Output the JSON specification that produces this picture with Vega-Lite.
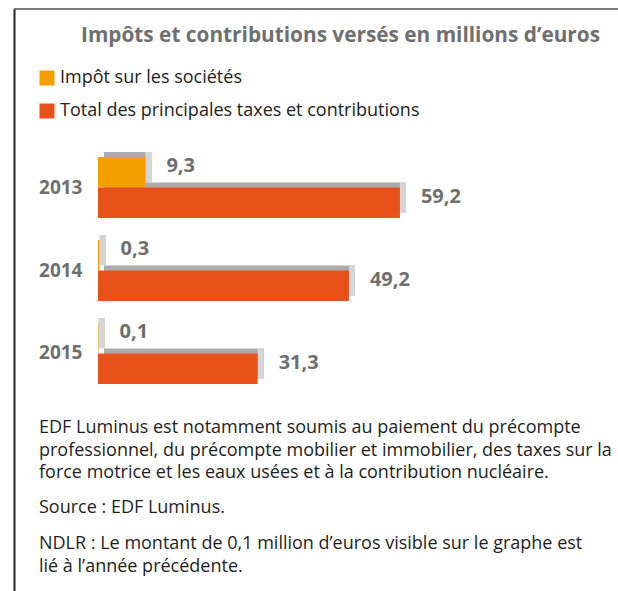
{
  "$schema": "https://vega.github.io/schema/vega-lite/v6.json",
  "width": 604,
  "height": 582,
  "padding": {"left": 14, "top": 9, "right": 0, "bottom": 0},
  "autosize": {"type": "none"},
  "background": "white",
  "config": {
    "font": "Open Sans",
    "view": {"stroke": "#7a7a7a", "strokeWidth": 2, "strokeDash": [604, 5000]},
    "locale": {"number": {"decimal": ",", "thousands": " ", "grouping": [3], "currency": ["", " €"]}}
  },
  "title": {
    "text": "Impôts et contributions versés en millions d’euros",
    "anchor": "start",
    "frame": "group",
    "dx": 67,
    "offset": -38,
    "fontSize": 20.8,
    "fontWeight": "bold",
    "color": "#6f6f6f",
    "font": "Open Sans"
  },
  "layer": [
    {
      "data": {
        "values": [
          {"year": "2013", "series": "Impôt sur les sociétés", "value": 9.3},
          {"year": "2013", "series": "Total des principales taxes et contributions", "value": 59.2},
          {"year": "2014", "series": "Impôt sur les sociétés", "value": 0.3},
          {"year": "2014", "series": "Total des principales taxes et contributions", "value": 49.2},
          {"year": "2015", "series": "Impôt sur les sociétés", "value": 0.1},
          {"year": "2015", "series": "Total des principales taxes et contributions", "value": 31.3}
        ]
      },
      "encoding": {
        "y": {
          "field": "year",
          "type": "nominal",
          "scale": {"range": [148, 375], "paddingInner": 0.265, "paddingOuter": 0},
          "axis": {
            "orient": "left",
            "title": null,
            "domain": false,
            "ticks": false,
            "tickSize": 0,
            "labelPadding": -68,
            "labelAlign": "right",
            "labelFontSize": 19,
            "labelFontWeight": "bold",
            "labelColor": "#6f6f6f",
            "labelFont": "Open Sans"
          }
        }
      },
      "layer": [
        {
          "mark": {"type": "bar", "color": "#acacac", "xOffset": 6, "x2Offset": 6},
          "encoding": {
            "x": {"field": "value", "type": "quantitative", "scale": {"domain": [0, 60], "range": [84, 390], "nice": false, "zero": true}, "axis": null},
            "yOffset": {
              "field": "series",
              "type": "nominal",
              "scale": {
                "type": "band",
                "domain": ["Impôt sur les sociétés", "Total des principales taxes et contributions"],
                "range": [-5, 56],
                "paddingInner": 0,
                "paddingOuter": 0
              }
            }
          }
        },
        {
          "mark": {"type": "bar", "color": "#d6d6d6", "x2Offset": 6},
          "encoding": {
            "x": {"field": "value", "type": "quantitative"},
            "x2": {"field": "value"},
            "yOffset": {
              "field": "series",
              "type": "nominal",
              "scale": {
                "type": "band",
                "domain": ["Impôt sur les sociétés", "Total des principales taxes et contributions"],
                "range": [-5, 56],
                "paddingInner": 0,
                "paddingOuter": 0
              }
            }
          }
        },
        {
          "mark": {"type": "bar"},
          "encoding": {
            "x": {"field": "value", "type": "quantitative"},
            "yOffset": {
              "field": "series",
              "type": "nominal",
              "scale": {
                "type": "band",
                "domain": ["Impôt sur les sociétés", "Total des principales taxes et contributions"],
                "paddingInner": 0,
                "paddingOuter": 0
              }
            },
            "color": {
              "field": "series",
              "type": "nominal",
              "scale": {
                "domain": ["Impôt sur les sociétés", "Total des principales taxes et contributions"],
                "range": ["#f5a000", "#e8511a"]
              },
              "legend": {
                "title": null,
                "orient": "none",
                "legendX": 24,
                "legendY": 60,
                "direction": "vertical",
                "symbolType": "square",
                "symbolSize": 225,
                "symbolStrokeWidth": 0,
                "labelFontSize": 18,
                "labelFont": "Open Sans",
                "labelColor": "#222222",
                "rowPadding": 15,
                "labelOffset": 4,
                "padding": 0,
                "labelLimit": 0
              }
            }
          }
        },
        {
          "mark": {"type": "text", "align": "left", "baseline": "middle", "dx": 21, "dy": -6, "fontSize": 20, "fontWeight": "bold", "color": "#6f6f6f", "font": "Open Sans"},
          "encoding": {
            "x": {"field": "value", "type": "quantitative"},
            "yOffset": {
              "field": "series",
              "type": "nominal",
              "scale": {
                "type": "band",
                "domain": ["Impôt sur les sociétés", "Total des principales taxes et contributions"],
                "paddingInner": 0,
                "paddingOuter": 0
              }
            },
            "text": {"field": "value", "type": "quantitative", "format": ".1f"}
          }
        }
      ],
      "resolve": {"scale": {"yOffset": "independent"}}
    },
    {
      "data": {
        "values": [
          {"para": 1, "text": "EDF Luminus est notamment soumis au paiement du précompte\nprofessionnel, du précompte mobilier et immobilier, des taxes sur la\nforce motrice et les eaux usées et à la contribution nucléaire."},
          {"para": 2, "text": "Source : EDF Luminus."},
          {"para": 3, "text": "NDLR : Le montant de 0,1 million d’euros visible sur le graphe est\nlié à l’année précédente."}
        ]
      },
      "mark": {"type": "text", "align": "left", "baseline": "middle", "lineBreak": "\n", "lineHeight": 22.5, "dx": -59, "fontSize": 18, "color": "#1e1e1e", "font": "Open Sans"},
      "encoding": {
        "x": {"datum": 0, "type": "quantitative"},
        "y": {
          "field": "para",
          "type": "quantitative",
          "scale": {"type": "pow", "exponent": -0.47, "domain": [0.1478, 5.917], "range": [0, 582], "nice": false, "zero": false},
          "axis": {"orient": "left", "title": null, "labels": false, "ticks": false, "grid": false, "domain": true, "domainColor": "#222222", "domainWidth": 2}
        },
        "text": {"field": "text"}
      }
    }
  ],
  "resolve": {"scale": {"y": "independent"}, "axis": {"y": "independent"}}
}
